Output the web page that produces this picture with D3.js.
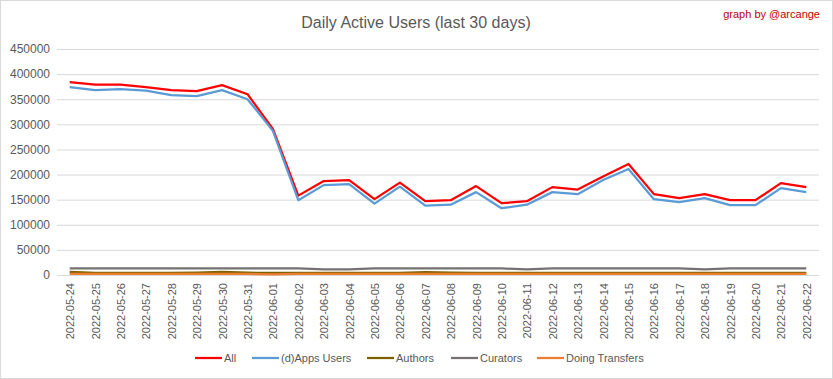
<!DOCTYPE html>
<html><head><meta charset="utf-8">
<script src="https://cdn.jsdelivr.net/npm/d3@7"></script>
<style>body{margin:0;background:#fff;font-family:"Liberation Sans",Arial,sans-serif}</style>
</head><body><svg id="c" width="833" height="379"></svg>
<script>
const dates = ["2022-05-24","2022-05-25","2022-05-26","2022-05-27","2022-05-28","2022-05-29","2022-05-30","2022-05-31","2022-06-01","2022-06-02","2022-06-03","2022-06-04","2022-06-05","2022-06-06","2022-06-07","2022-06-08","2022-06-09","2022-06-10","2022-06-11","2022-06-12","2022-06-13","2022-06-14","2022-06-15","2022-06-16","2022-06-17","2022-06-18","2022-06-19","2022-06-20","2022-06-21","2022-06-22"];
const allUsers = [384000,379000,379000,374000,368000,366000,378000,360000,291000,158000,187000,189000,151000,184000,147000,149000,177000,143000,147000,175000,170000,196000,221000,161000,153000,161000,149000,149000,183000,175000];
const appsUsers = [374000,368000,370000,367000,358000,356000,368000,350000,287000,149000,179000,181000,142000,176000,138000,140000,165000,133000,140000,165000,161000,189000,211000,151000,145000,153000,139000,139000,173000,165000];
const authors = [6000,4000,4000,4000,4000,4500,6000,4500,4000,4000,4000,4000,4000,4000,5500,4500,4000,4000,4000,4000,4000,4000,4000,4000,4000,4000,4000,4000,4000,4000];
const curators = [13000,13000,13000,13000,13000,13000,13000,13000,13000,13000,11000,11000,13000,13000,13000,13000,13000,13000,11000,13000,13000,13000,13000,13000,13000,11000,13000,13000,13000,13000];
const transfers = [2000,2000,2000,2000,2000,2000,2000,2000,1000,2000,2000,2000,2000,2000,2000,2000,2000,2000,2000,2000,2000,2000,2000,2000,2000,2000,2000,2000,2000,2000];
const yTicks = [0,50000,100000,150000,200000,250000,300000,350000,400000,450000];
const seriesNames = ["All","(d)Apps Users","Authors","Curators","Doing Transfers"];
const seriesColors = ["#FF0000","#5B9BD5","#7F6000","#767171","#ED7D31"];
const seriesData = [allUsers,appsUsers,authors,curators,transfers];

const svg = d3.select("#c");
svg.append("rect").attr("x",0.5).attr("y",0.5).attr("width",832).attr("height",378).attr("fill","#fff").attr("stroke","#d9d9d9");

const x = d3.scalePoint().domain(dates).range([57,819]).padding(0.5);
const y = d3.scaleLinear().domain([0,450000]).range([275,49]);

// gridlines
svg.append("g").selectAll("line").data(yTicks).join("line")
  .attr("x1",57).attr("x2",819).attr("y1",d=>y(d)+0.5).attr("y2",d=>y(d)+0.5)
  .attr("stroke","#d9d9d9").attr("stroke-width",1);

// y axis labels
const ya = svg.append("g").attr("transform","translate(50,0)").call(d3.axisLeft(y).tickValues(yTicks).tickSize(0).tickPadding(0).tickFormat(d3.format("d")));
ya.select(".domain").remove();
ya.selectAll("text").attr("fill","#595959").style("font-size","12px").style("font-family","Liberation Sans, Arial, sans-serif");

// x axis
const xa = svg.append("g").attr("transform","translate(0,275)").call(d3.axisBottom(x).tickSize(0).tickPadding(0));
xa.select(".domain").attr("stroke","#d9d9d9").attr("d","M57,0.5H819");
xa.selectAll("text").attr("fill","#595959").style("font-size","11px").style("font-family","Liberation Sans, Arial, sans-serif")
  .attr("text-anchor","end").attr("transform","translate(4,8) rotate(-90)").attr("dy","0").attr("y",0).attr("x",0);

// lines
const line = d3.line().x((d,i)=>x(dates[i])).y(d=>y(d));
seriesData.forEach((s,k)=>{
  svg.append("path").datum(s).attr("d",line).attr("fill","none")
    .attr("stroke",seriesColors[k]).attr("stroke-width",2.25).attr("stroke-linejoin","round");
});

// title
svg.append("text").attr("x",416).attr("y",28).attr("text-anchor","middle").attr("fill","#595959")
  .style("font-size","16px").text("Daily Active Users (last 30 days)");
svg.append("text").attr("x",820).attr("y",18).attr("text-anchor","end").attr("fill","#C00000")
  .style("font-size","11px").text("graph by @arcange");

// legend
const legX = [195,252,367,451,537];
const lg = svg.append("g");
seriesNames.forEach((n,k)=>{
  lg.append("line").attr("x1",legX[k]).attr("x2",legX[k]+27).attr("y1",358).attr("y2",358)
    .attr("stroke",seriesColors[k]).attr("stroke-width",2.25);
  lg.append("text").attr("x",legX[k]+29).attr("y",362).attr("fill","#595959").style("font-size","11px").text(n);
});
</script></body></html>
